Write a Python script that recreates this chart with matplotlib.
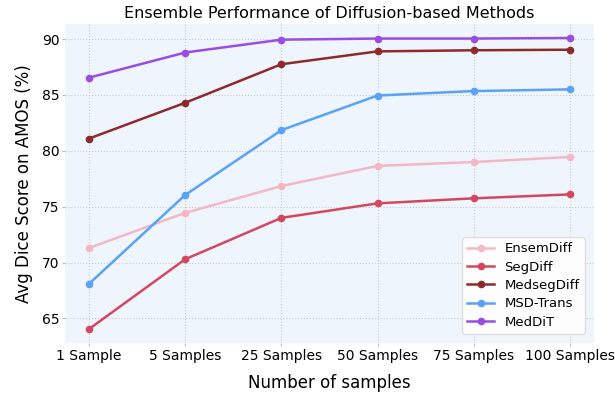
import matplotlib
matplotlib.use("Agg")
import matplotlib.pyplot as plt

samples = ['1 Sample', '5 Samples', '25 Samples', '50 Samples', '75 Samples', '100 Samples']
ensemdiff = [71.3, 74.45, 76.85, 78.65, 79.0, 79.45]
segdiff = [64.05, 70.3, 74.0, 75.3, 75.75, 76.1]
medsegdiff = [81.1, 84.3, 87.75, 88.9, 89.0, 89.05]
msd_trans = [68.1, 76.05, 81.85, 84.95, 85.35, 85.5]
meddit = [86.55, 88.8, 89.95, 90.05, 90.05, 90.1]

names = ['EnsemDiff', 'SegDiff', 'MedsegDiff', 'MSD-Trans', 'MedDiT']
series = [ensemdiff, segdiff, medsegdiff, msd_trans, meddit]
colors = ['#f4b8c4', '#d2485f', '#8e2a2c', '#5aa2f6', '#9a4de2']

fig = plt.figure(figsize=(6.15, 3.95), dpi=100)
ax = fig.add_axes([0.1057, 0.1316, 0.860, 0.8076])
ax.set_facecolor('#eef5fd')

x = list(range(len(samples)))
for name, vals, c in zip(names, series, colors):
    ax.plot(x, vals, '-o', color=c, label=name, linewidth=1.8, markersize=4.5)

ax.set_xticks(x)
ax.set_xticklabels(samples, fontsize=10)
ax.set_yticks([65, 70, 75, 80, 85, 90])
ax.tick_params(axis='y', labelsize=10)
ax.tick_params(length=2, pad=2, color='#bbbbbb')
ax.set_xlim(-0.25, 5.25)
ax.set_ylim(62.8, 91.35)
ax.grid(True, linestyle=':', color='#cccccc', linewidth=0.8)
for s in ax.spines.values():
    s.set_visible(False)

ax.set_title('Ensemble Performance of Diffusion-based Methods', fontsize=11.5, pad=4)
ax.set_xlabel('Number of samples', fontsize=12, labelpad=8)
ax.set_ylabel('Avg Dice Score on AMOS (%)', fontsize=12, labelpad=6)
ax.legend(loc='lower right', fontsize=9.5, framealpha=0.9, edgecolor='#dddddd',
          bbox_to_anchor=(1.0, 0.0), borderaxespad=0.7, labelspacing=0.4)

fig.savefig('out.png', dpi=100)
